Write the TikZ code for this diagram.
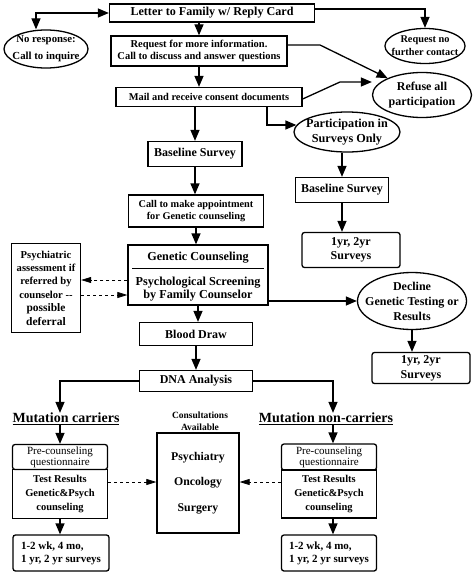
\documentclass[tikz,border=0pt]{standalone}
\usepackage{fontspec}
\setmainfont{Liberation Serif}
\usetikzlibrary{positioning,arrows.meta,shapes.geometric,calc}
\newcommand{\bsz}[2]{\fontsize{#1}{#2}\selectfont\bfseries}
\newcommand{\rsz}[2]{\fontsize{#1}{#2}\selectfont}

\begin{document}
\begin{tikzpicture}[x=1pt,y=-1pt,
  box/.style={draw,line width=1.3pt,align=center,inner sep=1pt},
  rbox/.style={box,rounded corners=2.5pt},
  oval/.style={ellipse,draw,line width=1.3pt,align=center,inner ysep=0pt},
  lbl/.style={align=center,inner sep=0pt},
  ar/.style={-{Triangle[length=11pt,width=9pt]},line width=1.3pt},
  dar/.style={-{Triangle[length=10pt,width=6pt]},line width=0.7pt,dash pattern=on 3pt off 3pt}]
\useasboundingbox (0,0) rectangle (474,578);
% ---- enrolment
\node[box,minimum width=205pt,minimum height=18pt,font=\bsz{12.1}{14}] (letter) at (212,13) {Letter to Family w/ Reply Card};
\node[oval,minimum width=84pt,minimum height=38pt,inner xsep=-3.9pt,font=\bsz{10.8}{17}] (noresp) at (46,49) {No response:\\Call to inquire};
\node[oval,minimum width=80pt,minimum height=35pt,inner xsep=-5pt,font=\bsz{10.3}{13}] (nocontact) at (425,46) {Request no\\further contact};
\node[box,minimum width=176pt,minimum height=30pt,font=\bsz{10.5}{12}] (request) at (199,51) {Request for more information.\\Call to discuss and answer questions};
\node[box,minimum width=186pt,minimum height=19pt,font=\bsz{10.4}{12}] (mail) at (209,97) {Mail and receive consent documents};
\node[oval,minimum width=99pt,minimum height=45pt,inner xsep=1.5pt,font=\bsz{12}{15}] (refuse) at (422,95) {Refuse all\\participation};
\node[oval,minimum width=106pt,minimum height=40pt,inner xsep=-3.4pt,font=\bsz{12.2}{15}] (part) at (347,132) {Participation in\\Surveys Only};
% ---- survey only branch
\node[box,minimum width=93pt,minimum height=25pt,font=\bsz{12}{14}] (bsr) at (342,190) {Baseline Survey};
\node[rbox,minimum width=98pt,minimum height=35pt,font=\bsz{12}{14}] (yra) at (351,250) {1yr, 2yr\\Surveys};
% ---- counseling branch
\node[box,minimum width=94pt,minimum height=25pt,font=\bsz{12}{14}] (bsl) at (195,154) {Baseline Survey};
\node[box,minimum width=135pt,minimum height=32pt,font=\bsz{10.3}{12.5}] (call) at (196,211) {Call to make appointment\\for Genetic counseling};
\node[box,minimum width=140pt,minimum height=60pt] (gc) at (198,275) {};
\node[lbl,font=\bsz{12.2}{14}] (gctitle) at (198,258) {Genetic Counseling};
\node[lbl,font=\bsz{12.2}{13.5}] (gcscreen) at (198,289) {Psychological Screening\\by Family Counselor};
\draw[line width=0.6pt] ($(gc.west)+(5,-7)$) -- ($(gc.east)+(-5,-7)$);
\node[box,minimum width=69pt,minimum height=89pt,font=\bsz{10.6}{13.4}] (psych) at (46,288) {Psychiatric\\assessment if\\referred by\\counselor {-}{-}\\{\bsz{11.5}{13.4}possible}\\{\bsz{11.5}{13.4}deferral}};
\node[oval,minimum width=109pt,minimum height=57pt,inner xsep=-8.8pt,inner ysep=-0.5pt,font=\bsz{12}{15}] (decline) at (412,301) {Decline\\Genetic Testing or\\Results};
\node[rbox,minimum width=98pt,minimum height=31pt,font=\bsz{12}{15}] (yrb) at (421,368) {1yr, 2yr\\Surveys};
\node[box,minimum width=113pt,minimum height=23pt,font=\bsz{12}{14}] (blood) at (196,334) {Blood Draw};
\node[box,minimum width=113pt,minimum height=21pt,font=\bsz{12}{14}] (dna) at (196,381) {DNA Analysis};
% ---- results
\node[lbl,font=\bsz{14}{16}] (carriers) at (66,419) {\underline{Mutation carriers}};
\node[lbl,font=\bsz{14}{16}] (noncarriers) at (326,419) {\underline{Mutation non-carriers}};
\node[lbl,font=\bsz{9.5}{12}] (avail) at (200,421) {Consultations\\Available};
\node[box,minimum width=82pt,minimum height=100pt,font=\bsz{11.8}{25.5}] (consult) at (198,483) {Psychiatry\\Oncology\\Surgery};
\node[rbox,minimum width=95pt,minimum height=25pt,font=\rsz{11}{11}] (preL) at (60,457) {Pre-counseling\\questionnaire};
\node[box,minimum width=95pt,minimum height=49pt,font=\bsz{10.5}{14}] (testL) at (60,494) {Test Results\\Genetic\&Psych\\counseling};
\node[rbox,minimum width=96pt,minimum height=36pt,align=left,font=\bsz{11}{13}] (survL) at (61,553) {1-2 wk, 4 mo,\\1 yr, 2 yr surveys};
\node[rbox,minimum width=95pt,minimum height=26pt,font=\rsz{11}{11}] (preR) at (329,457) {Pre-counseling\\questionnaire};
\node[box,minimum width=95pt,minimum height=48pt,font=\bsz{10.5}{14}] (testR) at (329,494) {Test Results\\Genetic\&Psych\\counseling};
\node[rbox,minimum width=95pt,minimum height=36pt,align=left,font=\bsz{11}{13}] (survR) at (329,553) {1-2 wk, 4 mo,\\1 yr, 2 yr surveys};
% ---- connections
\coordinate (rqc) at (320,45);
\coordinate (mlc) at (340,82);
\draw[{Triangle[length=11pt,width=9pt]}-{Triangle[length=11pt,width=9pt]},line width=1.3pt] ([xshift=-10pt]noresp.north) |- (letter.west);
\draw[ar] ([yshift=4pt]letter.east) -| (nocontact.north);
\draw[ar] (letter.south -| request.north) -- (request.north);
\draw[ar] ([yshift=6pt]request.east) -- (rqc) -- (refuse);
\draw[ar] (request.south) -- (request.south |- mail.north);
\draw[ar] ([yshift=-2pt]mail.east) -- (mlc) -- (refuse.west |- mlc);
\draw[ar] (bsl.north |- mail.south) -- (bsl.north);
\draw[ar] ([xshift=58pt]mail.south) |- ([xshift=3pt,yshift=7pt]part.west);
\draw[ar] (bsr.north |- part.south) -- (bsr.north);
\draw[ar] (bsr.south) -- (bsr.south |- yra.north);
\draw[ar] (bsl.south) -- (bsl.south |- call.north);
\draw[ar] (call.south) -- (call.south |- gc.north);
\draw[dar] ([yshift=-5pt]gc.west) -- ([yshift=-5pt]gc.west -| psych.east);
\draw[dar] ([yshift=-20pt]gc.west -| psych.east) -- ([yshift=-20pt]gc.west);
\draw[ar] (gc.east |- decline.west) -- (decline.west);
\draw[ar] (decline.south) -- (decline.south |- yrb.north);
\draw[ar] (gc.south) -- (gc.south |- blood.north);
\draw[ar] (blood.south) -- (dna.north);
\draw[ar] (dna.west) -| (preL.north |- carriers.north);
\draw[ar] (dna.east) -| ([xshift=4pt]preR.north |- noncarriers.north);
\draw[ar] (preL.north |- carriers.south) -- (preL.north);
\draw[ar] ([xshift=4pt]preR.north |- noncarriers.south) -- ([xshift=4pt]preR.north);
\draw[dar] ([yshift=12pt]testL.east) -- ([yshift=12pt]testL.east -| consult.west);
\draw[dar] ([yshift=12pt]testR.west) -- ([yshift=12pt]testR.west -| consult.east);
\draw[ar] (testL.south) -- (testL.south |- survL.north);
\draw[ar] ([xshift=4pt]testR.south) -- ([xshift=4pt]testR.south |- survR.north);
\end{tikzpicture}
\end{document}
